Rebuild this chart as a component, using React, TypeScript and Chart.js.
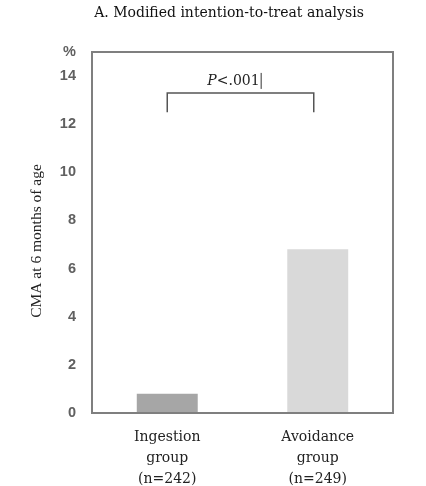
import React, { useEffect, useRef } from "react";
import { Chart, registerables } from "chart.js";

Chart.register(...registerables);

const categories: string[][] = [
  ["Ingestion", "group", "(n=242)"],
  ["Avoidance", "group", "(n=249)"],
];
const cmaPercent: number[] = [0.8, 6.8];
const barColors: string[] = ["#a6a6a6", "#d9d9d9"];
const yTickValues: number[] = [0, 2, 4, 6, 8, 10, 12, 14, 15];
const yTopLabel = "%";
const titleText = "A. Modified intention-to-treat analysis";
const yAxisTitle = "CMA at 6 months of age";
const pText = ".001";
const bracketLow = 12.5;
const bracketHigh = 13.3;

const overlay = {
  id: "overlay",
  afterDraw(chart: any) {
    const { ctx, chartArea, scales } = chart;
    const x = scales.x;
    const y = scales.y;
    ctx.save();
    ctx.strokeStyle = "#7f7f7f";
    ctx.lineWidth = 2;
    ctx.strokeRect(chartArea.left, chartArea.top, chartArea.right - chartArea.left, chartArea.bottom - chartArea.top);
    const x1 = x.getPixelForValue(0);
    const x2 = x.getPixelForValue(1) - 4;
    const yl = y.getPixelForValue(bracketLow);
    const yh = y.getPixelForValue(bracketHigh);
    ctx.strokeStyle = "#555555";
    ctx.lineWidth = 1.5;
    ctx.beginPath();
    ctx.moveTo(x1, yl);
    ctx.lineTo(x1, yh);
    ctx.lineTo(x2, yh);
    ctx.lineTo(x2, yl);
    ctx.stroke();
    const cx = (x1 + x2) / 2 - 7;
    const ty = yh - 12;
    ctx.fillStyle = "#222222";
    ctx.textBaseline = "middle";
    ctx.font = "italic 14px 'DejaVu Serif'";
    const pW = ctx.measureText("P").width;
    ctx.font = "14px 'DejaVu Serif'";
    const restW = ctx.measureText("<" + pText).width;
    const start = cx - (pW + restW) / 2;
    ctx.font = "italic 14px 'DejaVu Serif'";
    ctx.textAlign = "left";
    ctx.fillText("P", start, ty);
    ctx.font = "14px 'DejaVu Serif'";
    ctx.fillText("<" + pText, start + pW, ty);
    ctx.strokeStyle = "#333";
    ctx.lineWidth = 1;
    ctx.beginPath();
    const cxr = start + pW + restW + 1.5;
    ctx.moveTo(cxr, ty - 8);
    ctx.lineTo(cxr, ty + 8);
    ctx.stroke();
    // title
    ctx.font = "14px 'DejaVu Serif'";
    ctx.textAlign = "center";
    ctx.fillStyle = "#111111";
    ctx.fillText(titleText, 229, 13);
    // y axis title
    ctx.translate(37, 241);
    ctx.rotate(-Math.PI / 2);
    ctx.font = "15.5px 'Liberation Serif'";
    ctx.fillStyle = "#222222";
    ctx.fillText(yAxisTitle, 0, 0);
    ctx.restore();
  },
};

export default function App() {
  const ref = useRef<HTMLCanvasElement | null>(null);
  useEffect(() => {
    if (!ref.current) return;
    const chart = new Chart(ref.current, {
      type: "bar",
      data: {
        labels: categories,
        datasets: [
          {
            data: cmaPercent,
            backgroundColor: barColors,
            borderWidth: 0,
            barPercentage: 0.405,
            categoryPercentage: 1,
          },
        ],
      },
      options: {
        animation: false,
        responsive: false,
        maintainAspectRatio: false,
        layout: { padding: { left: 0, right: 33, top: 52, bottom: 0 } },
        plugins: { legend: { display: false }, tooltip: { enabled: false }, title: { display: false } },
        scales: {
          x: {
            grid: { display: false, drawTicks: false },
            border: { display: false },
            ticks: {
              color: "#222222",
              padding: 14,
              font: { family: "'DejaVu Serif'", size: 14, lineHeight: 1.5 },
              maxRotation: 0,
              autoSkip: false,
            },
            afterFit: (s: any) => {
              s.height = 73;
            },
          },
          y: {
            min: 0,
            max: 15,
            grid: { display: false, drawTicks: false },
            border: { display: false },
            afterBuildTicks: (s: any) => {
              s.ticks = yTickValues.map((v) => ({ value: v }));
            },
            ticks: {
              color: "#606060",
              padding: 16,
              font: { family: "'Liberation Sans'", size: 14.5, weight: "bold" },
              callback: (v: any) => (Number(v) === 15 ? yTopLabel : String(v)),
            },
            title: { display: false },
            afterFit: (s: any) => {
              s.width = 92;
            },
          },
        },
      },
      plugins: [overlay],
    });
    return () => chart.destroy();
  }, []);
  return (
    <div style={{ position: "fixed", left: 0, top: 0, width: 426, height: 486, background: "#fff" }}>
      <canvas ref={ref} width={426} height={486} style={{ width: 426, height: 486 }} />
    </div>
  );
}
